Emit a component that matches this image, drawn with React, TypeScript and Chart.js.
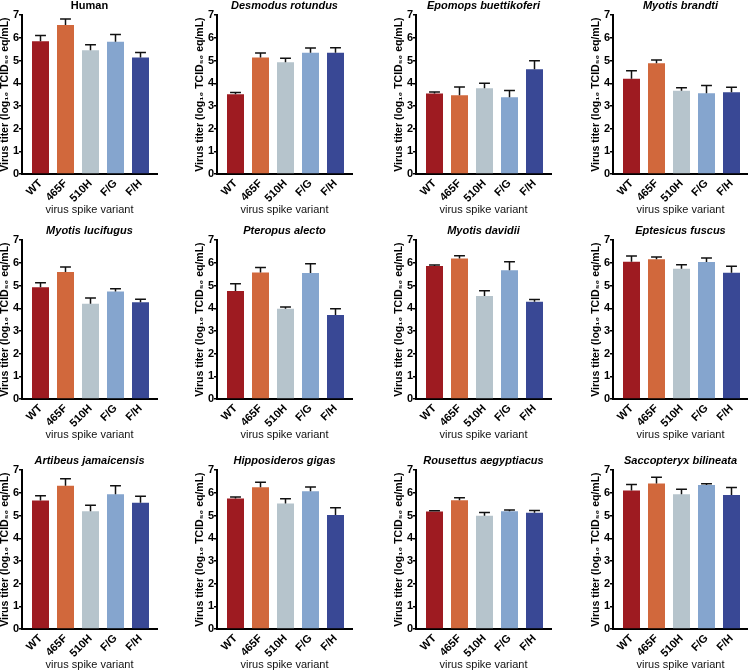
import React, { useEffect, useRef } from "react";
import { Chart, registerables } from "chart.js";

Chart.register(...registerables);

// ---------- data ----------
const variants = ["WT", "465F", "510H", "F/G", "F/H"];
const barColors = ["#9E1B21", "#D1683C", "#B6C4CC", "#85A5CE", "#394895"];
const yTickMax = 7;
const yTickStep = 1;

const humanTiter = [5.85, 6.57, 5.45, 5.83, 5.14];
const humanSem = [0.25, 0.26, 0.25, 0.32, 0.22];

const desmodusTiter = [3.52, 5.14, 4.93, 5.34, 5.34];
const desmodusSem = [0.07, 0.19, 0.17, 0.21, 0.22];

const epomopsTiter = [3.55, 3.47, 3.78, 3.38, 4.62];
const epomopsSem = [0.06, 0.37, 0.22, 0.3, 0.37];

const brandtiTiter = [4.2, 4.88, 3.67, 3.56, 3.6];
const brandtiSem = [0.35, 0.15, 0.13, 0.34, 0.22];

const lucifugusTiter = [4.93, 5.6, 4.2, 4.74, 4.27];
const lucifugusSem = [0.19, 0.22, 0.25, 0.12, 0.13];

const pteropusTiter = [4.76, 5.58, 3.98, 5.55, 3.7];
const pteropusSem = [0.32, 0.22, 0.07, 0.41, 0.28];

const davidiiTiter = [5.86, 6.19, 4.54, 5.67, 4.29];
const davidiiSem = [0.05, 0.13, 0.23, 0.38, 0.1];

const eptesicusTiter = [6.05, 6.16, 5.74, 6.04, 5.57];
const eptesicusSem = [0.25, 0.1, 0.18, 0.17, 0.28];

const artibeusTiter = [5.66, 6.31, 5.19, 5.94, 5.56];
const artibeusSem = [0.21, 0.31, 0.27, 0.37, 0.29];

const hipposiderosTiter = [5.75, 6.25, 5.53, 6.07, 5.03];
const hipposiderosSem = [0.07, 0.22, 0.21, 0.19, 0.31];

const rousettusTiter = [5.18, 5.68, 4.99, 5.19, 5.12];
const rousettusSem = [0.03, 0.11, 0.14, 0.06, 0.1];

const saccopteryxTiter = [6.1, 6.41, 5.94, 6.35, 5.91];
const saccopteryxSem = [0.27, 0.28, 0.22, 0.05, 0.33];

const speciesTitles = [
  "Human",
  "Desmodus rotundus",
  "Epomops buettikoferi",
  "Myotis brandti",
  "Myotis lucifugus",
  "Pteropus alecto",
  "Myotis davidii",
  "Eptesicus fuscus",
  "Artibeus jamaicensis",
  "Hipposideros gigas",
  "Rousettus aegyptiacus",
  "Saccopteryx bilineata",
];
const italicTitles = [false, true, true, true, true, true, true, true, true, true, true, true];
const titerSeries = [
  humanTiter, desmodusTiter, epomopsTiter, brandtiTiter,
  lucifugusTiter, pteropusTiter, davidiiTiter, eptesicusTiter,
  artibeusTiter, hipposiderosTiter, rousettusTiter, saccopteryxTiter,
];
const semSeries = [
  humanSem, desmodusSem, epomopsSem, brandtiSem,
  lucifugusSem, pteropusSem, davidiiSem, eptesicusSem,
  artibeusSem, hipposiderosSem, rousettusSem, saccopteryxSem,
];

const yAxisTitle = "Virus titer (log\u2081\u2080 TCID\u2085\u2080 eq/mL)";
const xAxisTitle = "virus spike variant";

// ---------- layout ----------
const FONT = "'Liberation Sans', Arial, Helvetica, sans-serif";
const colAxisX = [22, 217, 416, 613];
const rowPlotTop = [15, 240, 470];
const Y_AXIS_W = 22;
const TITLE_BLOCK = 16.2;
const CANVAS_W = 159;
const CANVAS_H = 218;
const X_AXIS_H = 43;
const X_MIN = -0.74;
const X_MAX = 4.66;

const errorBarPlugin = {
  id: "errorBars",
  afterDatasetsDraw(chart: any, _args: any, opts: any) {
    const errs: number[] = opts.errors || [];
    const meta = chart.getDatasetMeta(0);
    const yScale = chart.scales.y;
    const ctx = chart.ctx;
    ctx.save();
    ctx.strokeStyle = "#111";
    ctx.lineWidth = 1.5;
    meta.data.forEach((bar: any, i: number) => {
      const v = (chart.data.datasets[0].data[i] as any).y as number;
      const top = yScale.getPixelForValue(v + errs[i]);
      const capHalf = bar.width * 0.32;
      ctx.beginPath();
      ctx.moveTo(bar.x, bar.y);
      ctx.lineTo(bar.x, top);
      ctx.moveTo(bar.x - capHalf, top);
      ctx.lineTo(bar.x + capHalf, top);
      ctx.stroke();
    });
    ctx.restore();
  },
};

function Panel({ index }: { index: number }) {
  const ref = useRef<HTMLCanvasElement | null>(null);
  useEffect(() => {
    if (!ref.current) return;
    const points = titerSeries[index].map((v, i) => ({ x: i, y: v }));
    const chart = new Chart(ref.current, {
      type: "bar",
      data: {
        datasets: [
          {
            data: points,
            backgroundColor: barColors,
            borderWidth: 0,
            barPercentage: 0.68,
            categoryPercentage: 1,
          },
        ],
      },
      options: {
        responsive: false,
        animation: false,
        layout: { padding: { left: 0, right: 2, top: 0, bottom: 0 } },
        plugins: {
          legend: { display: false },
          tooltip: { enabled: false },
          title: {
            display: true,
            text: speciesTitles[index],
            color: "#000",
            fullSize: false,
            font: { family: FONT, size: 11, weight: "bold", style: italicTitles[index] ? "italic" : "normal" },
            padding: { top: 0, bottom: 3 },
          },
          errorBars: { errors: semSeries[index] },
        } as any,
        scales: {
          x: {
            type: "linear",
            min: X_MIN,
            max: X_MAX,
            offset: false,
            z: 1,
            grid: { display: false, drawTicks: false },
            border: { display: true, color: "#000", width: 2 },
            afterBuildTicks: (scale: any) => {
              scale.ticks = variants.map((_, i) => ({ value: i }));
            },
            ticks: {
              autoSkip: false,
              maxRotation: 45,
              minRotation: 45,
              padding: 3,
              color: "#000",
              font: { family: FONT, size: 11, weight: "bold" },
              callback: (value: any) => variants[Math.round(Number(value))] ?? "",
            },
            title: {
              display: true,
              text: xAxisTitle,
              color: "#111",
              font: { family: FONT, size: 11, weight: "normal" },
              padding: { top: 0, bottom: 0 },
            },
            afterFit: (scale: any) => {
              scale.height = X_AXIS_H;
            },
          },
          y: {
            min: 0,
            max: yTickMax,
            grid: {
              display: true,
              drawOnChartArea: false,
              drawTicks: true,
              tickLength: 3,
              color: "#000",
              lineWidth: 1.5,
            },
            border: { display: true, color: "#000", width: 2 },
            ticks: {
              stepSize: yTickStep,
              padding: 0,
              color: "#000",
              font: { family: FONT, size: 11, weight: "bold" },
            },
            title: {
              display: true,
              text: yAxisTitle,
              color: "#000",
              font: { family: FONT, size: 10.5, weight: "bold" },
              padding: { top: -1, bottom: 0 },
            },
            afterFit: (scale: any) => {
              scale.width = Y_AXIS_W;
            },
          },
        },
      },
      plugins: [errorBarPlugin],
    } as any);
    return () => chart.destroy();
  }, [index]);

  const col = index % 4;
  const row = Math.floor(index / 4);
  const left = colAxisX[col] - Y_AXIS_W;
  const top = Math.round(rowPlotTop[row] - TITLE_BLOCK);
  return (
    <canvas
      ref={ref}
      width={CANVAS_W}
      height={CANVAS_H}
      style={{ position: "absolute", left, top, width: CANVAS_W, height: CANVAS_H }}
    />
  );
}

export default function App() {
  return (
    <div
      style={{
        position: "absolute",
        left: 0,
        top: 0,
        width: 748,
        height: 670,
        overflow: "hidden",
        background: "#fff",
      }}
    >
      {speciesTitles.map((_, i) => (
        <Panel key={i} index={i} />
      ))}
    </div>
  );
}
